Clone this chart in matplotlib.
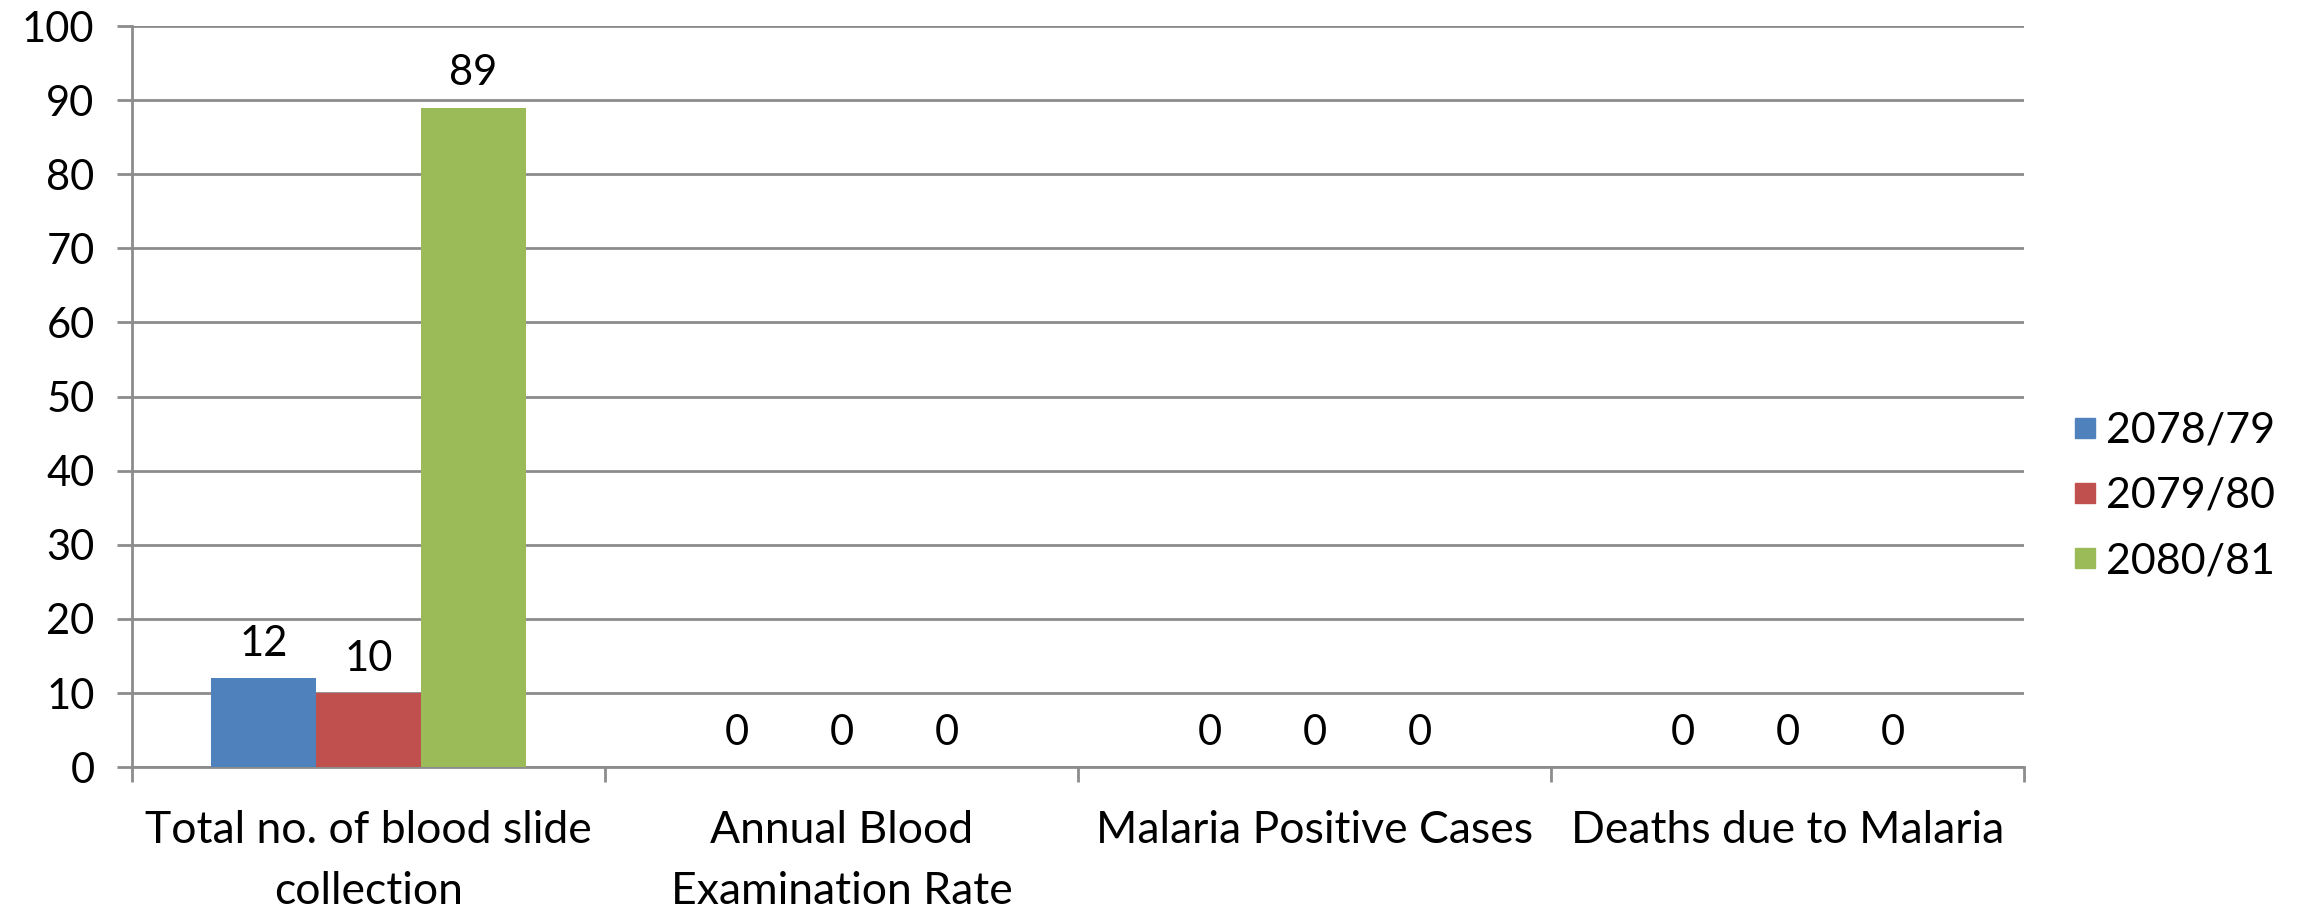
import matplotlib
matplotlib.use("Agg")
import matplotlib.pyplot as plt
from matplotlib.lines import Line2D
import numpy as np

plt.rcParams['font.family'] = ['Lato', 'DejaVu Sans']

# data
categories = ["Total no. of blood slide\ncollection", "Annual Blood\nExamination Rate",
              "Malaria Positive Cases", "Deaths due to Malaria"]
years = ["2078/79", "2079/80", "2080/81"]
v_2078 = [12, 0, 0, 0]
v_2079 = [10, 0, 0, 0]
v_2080 = [89, 0, 0, 0]
colors = ["#4F81BD", "#C0504D", "#9BBB59"]
yticks = list(range(0, 101, 10))

grid_col = "#8C8C8C"
fs_num = 30
fs_cat = 32
fs_leg = 31

fig = plt.figure(figsize=(23, 9.1), dpi=100)
ax = fig.add_axes([0.0574, 0.157, 0.8226, 0.8144])

x = np.arange(len(categories))
w = 0.222
series = [v_2078, v_2079, v_2080]
for i, (vals, col) in enumerate(zip(series, colors)):
    bars = ax.bar(x + (i - 1) * w, vals, width=w, color=col, zorder=3)
    ax.bar_label(bars, labels=[str(v) for v in vals], padding=11, fontsize=fs_num)

ax.set_xlim(-0.5, len(categories) - 0.5)
ax.set_ylim(0, 100)
ax.set_yticks(yticks)
ax.yaxis.grid(True, color=grid_col, linewidth=2, zorder=0)
ax.set_axisbelow(True)

# category boundaries as major ticks, labels on minor ticks
ax.set_xticks(np.arange(-0.5, len(categories), 1.0))
ax.set_xticklabels([])
ax.set_xticks(x, minor=True)
ax.set_xticklabels(categories, minor=True, fontsize=fs_cat, linespacing=1.6)
ax.tick_params(axis='x', which='major', length=11, width=2, color=grid_col)
ax.tick_params(axis='x', which='minor', length=0, pad=31)
ax.tick_params(axis='y', length=11, width=2, color=grid_col, labelsize=fs_num, pad=16)

for s in ["top", "right"]:
    ax.spines[s].set_visible(False)
for s in ["left", "bottom"]:
    ax.spines[s].set_color(grid_col)
    ax.spines[s].set_linewidth(2)

handles = [Line2D([0], [0], marker='s', linestyle='none', markersize=14,
                  markerfacecolor=c, markeredgecolor=c) for c in colors]
fig.legend(handles, years, loc='center left', bbox_to_anchor=(0.8943, 0.455),
           frameon=False, fontsize=fs_leg, handlelength=0.5, handletextpad=0.25,
           labelspacing=0.63, borderaxespad=0)

fig.savefig("out.png", dpi=100)
